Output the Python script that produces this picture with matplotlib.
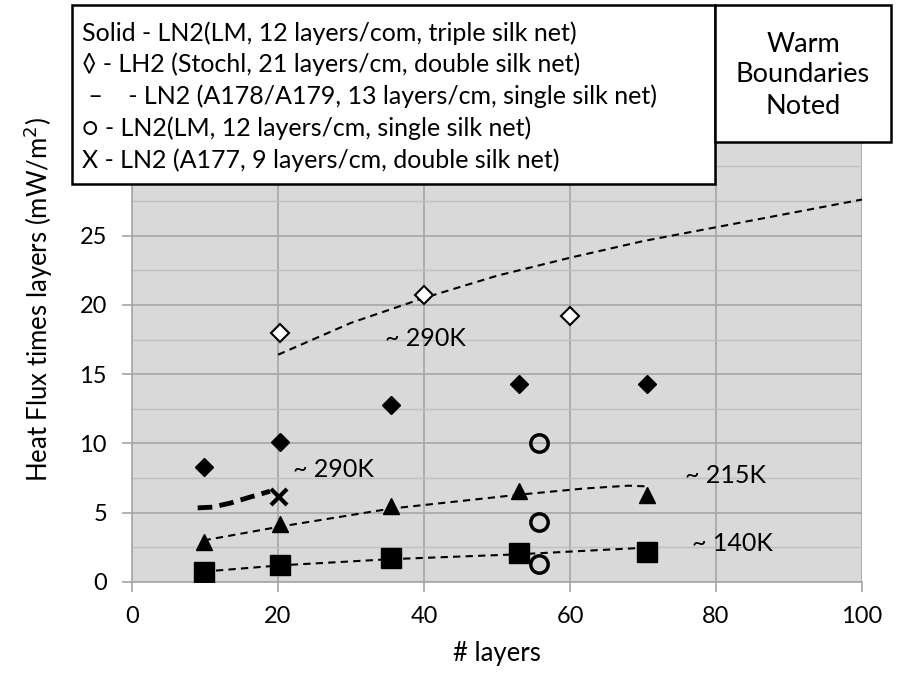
import matplotlib
matplotlib.use("Agg")
import matplotlib.pyplot as plt
from matplotlib.patches import Rectangle
from matplotlib.ticker import MultipleLocator

plt.rcParams['font.family'] = ['Lato', 'DejaVu Sans']

# ---- data ----
lm_triple_x = [9.8, 20.3, 35.5, 53.0, 70.5]
lm_triple_y = [8.3, 10.1, 12.8, 14.3, 14.3]

lh2_x = [20.3, 40.0, 60.0]
lh2_y = [18.0, 20.7, 19.2]
lh2_fit_x = [20, 30, 40, 50, 60, 70, 80, 90, 100]
lh2_fit_y = [16.4, 18.7, 20.5, 22.1, 23.4, 24.6, 25.6, 26.6, 27.6]

tri_x = [9.8, 20.3, 35.5, 53.0, 70.5]
tri_y = [2.9, 4.2, 5.5, 6.6, 6.3]
tri_fit_x = [9.8, 20.3, 35.5, 53.0, 62.0, 68.0, 70.5]
tri_fit_y = [3.0, 4.0, 5.3, 6.3, 6.75, 6.95, 6.9]

sq_x = [9.8, 20.3, 35.5, 53.0, 70.5]
sq_y = [0.7, 1.2, 1.7, 2.1, 2.2]
sq_fit_x = [9.8, 20.3, 35.5, 53.0, 62.0, 69.5]
sq_fit_y = [0.75, 1.2, 1.65, 2.0, 2.25, 2.45]

circ_x = [55.8, 55.8, 55.8]
circ_y = [10.0, 4.3, 1.3]

a178_x = [9.0, 11.0, 13.5, 16.0, 18.9]
a178_y = [5.35, 5.4, 5.7, 6.1, 6.55]

a177_x = [20.1]
a177_y = [6.1]

annotations = [("~ 290K", 34.6, 17.6), ("~ 290K", 22.0, 8.1),
               ("~ 215K", 75.8, 7.7), ("~ 140K", 76.7, 2.8)]

legend_lines = [
    "Solid - LN2(LM, 12 layers/com, triple silk net)",
    "\u25ca - LH2 (Stochl, 21 layers/cm, double silk net)",
    " \u2013    - LN2 (A178/A179, 13 layers/cm, single silk net)",
    "\u25cb - LN2(LM, 12 layers/cm, single silk net)",
    "X - LN2 (A177, 9 layers/cm, double silk net)",
]
warm_text = "Warm\nBoundaries\nNoted"

xticks = [0, 20, 40, 60, 80, 100]
yticks = [0, 5, 10, 15, 20, 25]

# ---- figure ----
W, H = 903, 675
fig = plt.figure(figsize=(W / 100, H / 100), dpi=100)
ax = fig.add_axes([132 / W, 1 - 582 / H, (862 - 132) / W, (582 - 97) / H])
ax.set_facecolor('#d9d9d9')
ax.set_xlim(0, 100)
ax.set_ylim(0, 35)
ax.set_xticks(xticks)
ax.set_yticks(yticks)
ax.yaxis.set_minor_locator(MultipleLocator(2.5))
ax.grid(True, which='major', color='#a6a6a6', lw=1.2)
ax.grid(True, which='minor', axis='y', color='#bfbfbf', lw=1.0)
ax.set_axisbelow(True)
for s in ['top', 'right']:
    ax.spines[s].set_visible(False)
for s in ['left', 'bottom']:
    ax.spines[s].set_color('#a6a6a6')
    ax.spines[s].set_linewidth(1.2)
ax.tick_params(which='major', length=7, color='#a6a6a6', width=1.2,
               labelsize=17)
ax.tick_params(axis='y', pad=11)
ax.tick_params(axis='x', pad=10)
ax.tick_params(which='minor', length=0)

ax.set_xlabel("# layers", fontsize=18.5)
ax.set_ylabel("Heat Flux times layers (mW/m$^2$)", fontsize=18.5)
ax.xaxis.set_label_coords(0.5, (582 - 653) / 485, transform=ax.transAxes)
ax.xaxis.label.set_va('center')
ax.yaxis.set_label_coords((38 - 132) / 730, (582 - 300) / 485, transform=ax.transAxes)
ax.yaxis.label.set_va('center')

dash = (0, (3.5, 2.5))
ax.plot(lh2_fit_x, lh2_fit_y, color='black', lw=1.5, ls=dash, zorder=3)
ax.plot(tri_fit_x, tri_fit_y, color='black', lw=1.5, ls=dash, zorder=3)
ax.plot(sq_fit_x, sq_fit_y, color='black', lw=1.5, ls=dash, zorder=3)
ax.plot(a178_x, a178_y, color='black', lw=3.5, ls=(0, (3, 1.5)), zorder=3)

ax.plot(lm_triple_x, lm_triple_y, ls='none', marker='D', ms=9, color='black', zorder=4)
ax.plot(lh2_x, lh2_y, ls='none', marker='D', ms=9.5, mfc='white', mec='black', mew=1.5, zorder=4)
ax.plot(tri_x, tri_y, ls='none', marker='^', ms=11, color='black', zorder=4)
ax.plot(sq_x, sq_y, ls='none', marker='s', ms=14, color='black', zorder=4)
ax.plot(circ_x, circ_y, ls='none', marker='o', ms=12.5, mfc='none', mec='black', mew=2.5, zorder=4)
ax.plot(a177_x, a177_y, ls='none', marker='x', ms=12, color='black', mew=3, zorder=4)

for t, x, y in annotations:
    ax.text(x, y, t, fontsize=18, ha='left', va='center', zorder=5)

# ---- boxes (figure coordinates) ----
def box(x0, y0, x1, y1):
    fig.add_artist(Rectangle((x0 / W, 1 - y1 / H), (x1 - x0) / W, (y1 - y0) / H,
                             transform=fig.transFigure, facecolor='white',
                             edgecolor='black', lw=1.8, zorder=10))

box(72, 5, 715, 184)
box(715, 5, 891, 142)

for i, line in enumerate(legend_lines):
    fig.text(82 / W, 1 - (31 + i * 31.7) / H, line, fontsize=18, ha='left',
             va='center_baseline', zorder=11)

fig.text(803 / W, 1 - 75 / H, warm_text, fontsize=19.5, ha='center', va='center',
         linespacing=1.3, zorder=11)

fig.savefig("out.png", dpi=100)
